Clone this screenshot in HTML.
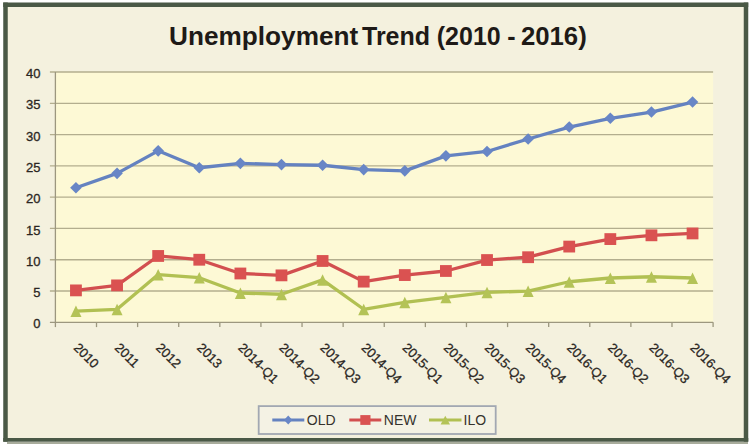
<!DOCTYPE html><html><head><meta charset="utf-8"><style>html,body{margin:0;padding:0;background:#fff;}svg{display:block;font-family:"Liberation Sans",sans-serif;}</style></head><body>
<svg width="752" height="444" viewBox="0 0 752 444">
<rect x="7" y="441.7" width="741" height="2.3" fill="#a8ac9c"/>
<rect x="5" y="5" width="741" height="435" fill="#f4f1de"/>
<rect x="3.25" y="2.5" width="745" height="4.5" fill="#4a5946"/>
<rect x="3.25" y="2.5" width="4.5" height="439.2" fill="#4a5946"/>
<rect x="743.75" y="2.5" width="4.5" height="439.2" fill="#4a5946"/>
<rect x="3.25" y="438" width="745" height="3.7" fill="#4a5946"/>
<rect x="55.4" y="72.00" width="657.70" height="250.30" fill="#fdf9d5"/>
<line x1="49.90" y1="291.01" x2="713.10" y2="291.01" stroke="#b3ae8e" stroke-width="1.3"/>
<line x1="49.90" y1="259.73" x2="713.10" y2="259.73" stroke="#b3ae8e" stroke-width="1.3"/>
<line x1="49.90" y1="228.44" x2="713.10" y2="228.44" stroke="#b3ae8e" stroke-width="1.3"/>
<line x1="49.90" y1="197.15" x2="713.10" y2="197.15" stroke="#b3ae8e" stroke-width="1.3"/>
<line x1="49.90" y1="165.86" x2="713.10" y2="165.86" stroke="#b3ae8e" stroke-width="1.3"/>
<line x1="49.90" y1="134.57" x2="713.10" y2="134.57" stroke="#b3ae8e" stroke-width="1.3"/>
<line x1="49.90" y1="103.29" x2="713.10" y2="103.29" stroke="#b3ae8e" stroke-width="1.3"/>
<line x1="49.90" y1="72.00" x2="713.10" y2="72.00" stroke="#b3ae8e" stroke-width="1.3"/>
<line x1="55.40" y1="72.00" x2="55.40" y2="327.10" stroke="#9c977f" stroke-width="1.3"/>
<line x1="49.90" y1="322.30" x2="713.10" y2="322.30" stroke="#9c977f" stroke-width="1.3"/>
<line x1="96.51" y1="322.30" x2="96.51" y2="327.10" stroke="#9c977f" stroke-width="1.3"/>
<line x1="137.61" y1="322.30" x2="137.61" y2="327.10" stroke="#9c977f" stroke-width="1.3"/>
<line x1="178.72" y1="322.30" x2="178.72" y2="327.10" stroke="#9c977f" stroke-width="1.3"/>
<line x1="219.83" y1="322.30" x2="219.83" y2="327.10" stroke="#9c977f" stroke-width="1.3"/>
<line x1="260.93" y1="322.30" x2="260.93" y2="327.10" stroke="#9c977f" stroke-width="1.3"/>
<line x1="302.04" y1="322.30" x2="302.04" y2="327.10" stroke="#9c977f" stroke-width="1.3"/>
<line x1="343.14" y1="322.30" x2="343.14" y2="327.10" stroke="#9c977f" stroke-width="1.3"/>
<line x1="384.25" y1="322.30" x2="384.25" y2="327.10" stroke="#9c977f" stroke-width="1.3"/>
<line x1="425.36" y1="322.30" x2="425.36" y2="327.10" stroke="#9c977f" stroke-width="1.3"/>
<line x1="466.46" y1="322.30" x2="466.46" y2="327.10" stroke="#9c977f" stroke-width="1.3"/>
<line x1="507.57" y1="322.30" x2="507.57" y2="327.10" stroke="#9c977f" stroke-width="1.3"/>
<line x1="548.68" y1="322.30" x2="548.68" y2="327.10" stroke="#9c977f" stroke-width="1.3"/>
<line x1="589.78" y1="322.30" x2="589.78" y2="327.10" stroke="#9c977f" stroke-width="1.3"/>
<line x1="630.89" y1="322.30" x2="630.89" y2="327.10" stroke="#9c977f" stroke-width="1.3"/>
<line x1="671.99" y1="322.30" x2="671.99" y2="327.10" stroke="#9c977f" stroke-width="1.3"/>
<line x1="713.10" y1="322.30" x2="713.10" y2="327.10" stroke="#9c977f" stroke-width="1.3"/>
<text x="40.5" y="328.40" text-anchor="end" font-size="13" fill="#2a2622" stroke="#2a2622" stroke-width="0.3">0</text>
<text x="40.5" y="297.11" text-anchor="end" font-size="13" fill="#2a2622" stroke="#2a2622" stroke-width="0.3">5</text>
<text x="40.5" y="265.83" text-anchor="end" font-size="13" fill="#2a2622" stroke="#2a2622" stroke-width="0.3">10</text>
<text x="40.5" y="234.54" text-anchor="end" font-size="13" fill="#2a2622" stroke="#2a2622" stroke-width="0.3">15</text>
<text x="40.5" y="203.25" text-anchor="end" font-size="13" fill="#2a2622" stroke="#2a2622" stroke-width="0.3">20</text>
<text x="40.5" y="171.96" text-anchor="end" font-size="13" fill="#2a2622" stroke="#2a2622" stroke-width="0.3">25</text>
<text x="40.5" y="140.67" text-anchor="end" font-size="13" fill="#2a2622" stroke="#2a2622" stroke-width="0.3">30</text>
<text x="40.5" y="109.39" text-anchor="end" font-size="13" fill="#2a2622" stroke="#2a2622" stroke-width="0.3">35</text>
<text x="40.5" y="78.10" text-anchor="end" font-size="13" fill="#2a2622" stroke="#2a2622" stroke-width="0.3">40</text>
<text transform="translate(72.95,348.5) rotate(45)" font-size="13" fill="#2a2622" stroke="#2a2622" stroke-width="0.3">2010</text>
<text transform="translate(114.06,348.5) rotate(45)" font-size="13" fill="#2a2622" stroke="#2a2622" stroke-width="0.3">2011</text>
<text transform="translate(155.17,348.5) rotate(45)" font-size="13" fill="#2a2622" stroke="#2a2622" stroke-width="0.3">2012</text>
<text transform="translate(196.27,348.5) rotate(45)" font-size="13" fill="#2a2622" stroke="#2a2622" stroke-width="0.3">2013</text>
<text transform="translate(237.38,348.5) rotate(45)" font-size="13" fill="#2a2622" stroke="#2a2622" stroke-width="0.3">2014-Q1</text>
<text transform="translate(278.48,348.5) rotate(45)" font-size="13" fill="#2a2622" stroke="#2a2622" stroke-width="0.3">2014-Q2</text>
<text transform="translate(319.59,348.5) rotate(45)" font-size="13" fill="#2a2622" stroke="#2a2622" stroke-width="0.3">2014-Q3</text>
<text transform="translate(360.70,348.5) rotate(45)" font-size="13" fill="#2a2622" stroke="#2a2622" stroke-width="0.3">2014-Q4</text>
<text transform="translate(401.80,348.5) rotate(45)" font-size="13" fill="#2a2622" stroke="#2a2622" stroke-width="0.3">2015-Q1</text>
<text transform="translate(442.91,348.5) rotate(45)" font-size="13" fill="#2a2622" stroke="#2a2622" stroke-width="0.3">2015-Q2</text>
<text transform="translate(484.02,348.5) rotate(45)" font-size="13" fill="#2a2622" stroke="#2a2622" stroke-width="0.3">2015-Q3</text>
<text transform="translate(525.12,348.5) rotate(45)" font-size="13" fill="#2a2622" stroke="#2a2622" stroke-width="0.3">2015-Q4</text>
<text transform="translate(566.23,348.5) rotate(45)" font-size="13" fill="#2a2622" stroke="#2a2622" stroke-width="0.3">2016-Q1</text>
<text transform="translate(607.33,348.5) rotate(45)" font-size="13" fill="#2a2622" stroke="#2a2622" stroke-width="0.3">2016-Q2</text>
<text transform="translate(648.44,348.5) rotate(45)" font-size="13" fill="#2a2622" stroke="#2a2622" stroke-width="0.3">2016-Q3</text>
<text transform="translate(689.55,348.5) rotate(45)" font-size="13" fill="#2a2622" stroke="#2a2622" stroke-width="0.3">2016-Q4</text>
<polyline points="75.95,187.76 117.06,173.37 158.17,150.84 199.27,167.74 240.38,163.36 281.48,164.61 322.59,165.24 363.70,169.62 404.80,170.87 445.91,155.85 487.02,151.47 528.12,138.96 569.23,127.07 610.33,118.31 651.44,112.05 692.55,102.04" fill="none" stroke="#6482c0" stroke-width="3.3" stroke-linejoin="round"/>
<polyline points="75.95,290.39 117.06,285.38 158.17,255.97 199.27,259.73 240.38,273.49 281.48,275.37 322.59,260.98 363.70,281.63 404.80,275.06 445.91,270.99 487.02,260.04 528.12,257.22 569.23,246.58 610.33,239.08 651.44,235.32 692.55,233.44" fill="none" stroke="#d24f4f" stroke-width="3.3" stroke-linejoin="round"/>
<polyline points="75.95,311.16 117.06,309.28 158.17,274.56 199.27,277.68 240.38,293.01 281.48,294.27 322.59,279.87 363.70,309.28 404.80,302.40 445.91,297.40 487.02,292.39 528.12,291.14 569.23,281.75 610.33,278.00 651.44,276.75 692.55,278.00" fill="none" stroke="#b1c052" stroke-width="3.3" stroke-linejoin="round"/>
<path d="M75.95 181.96L81.75 187.76L75.95 193.56L70.15 187.76Z" fill="#6886c6"/>
<path d="M117.06 167.57L122.86 173.37L117.06 179.17L111.26 173.37Z" fill="#6886c6"/>
<path d="M158.17 145.04L163.97 150.84L158.17 156.64L152.37 150.84Z" fill="#6886c6"/>
<path d="M199.27 161.94L205.07 167.74L199.27 173.54L193.47 167.74Z" fill="#6886c6"/>
<path d="M240.38 157.56L246.18 163.36L240.38 169.16L234.58 163.36Z" fill="#6886c6"/>
<path d="M281.48 158.81L287.28 164.61L281.48 170.41L275.68 164.61Z" fill="#6886c6"/>
<path d="M322.59 159.44L328.39 165.24L322.59 171.04L316.79 165.24Z" fill="#6886c6"/>
<path d="M363.70 163.82L369.50 169.62L363.70 175.42L357.90 169.62Z" fill="#6886c6"/>
<path d="M404.80 165.07L410.60 170.87L404.80 176.67L399.00 170.87Z" fill="#6886c6"/>
<path d="M445.91 150.05L451.71 155.85L445.91 161.65L440.11 155.85Z" fill="#6886c6"/>
<path d="M487.02 145.67L492.82 151.47L487.02 157.27L481.22 151.47Z" fill="#6886c6"/>
<path d="M528.12 133.16L533.92 138.96L528.12 144.76L522.32 138.96Z" fill="#6886c6"/>
<path d="M569.23 121.27L575.03 127.07L569.23 132.87L563.43 127.07Z" fill="#6886c6"/>
<path d="M610.33 112.51L616.13 118.31L610.33 124.11L604.53 118.31Z" fill="#6886c6"/>
<path d="M651.44 106.25L657.24 112.05L651.44 117.85L645.64 112.05Z" fill="#6886c6"/>
<path d="M692.55 96.24L698.35 102.04L692.55 107.84L686.75 102.04Z" fill="#6886c6"/>
<rect x="70.05" y="284.49" width="11.8" height="11.8" fill="#da5251"/>
<rect x="111.16" y="279.48" width="11.8" height="11.8" fill="#da5251"/>
<rect x="152.27" y="250.07" width="11.8" height="11.8" fill="#da5251"/>
<rect x="193.37" y="253.83" width="11.8" height="11.8" fill="#da5251"/>
<rect x="234.48" y="267.59" width="11.8" height="11.8" fill="#da5251"/>
<rect x="275.58" y="269.47" width="11.8" height="11.8" fill="#da5251"/>
<rect x="316.69" y="255.08" width="11.8" height="11.8" fill="#da5251"/>
<rect x="357.80" y="275.73" width="11.8" height="11.8" fill="#da5251"/>
<rect x="398.90" y="269.16" width="11.8" height="11.8" fill="#da5251"/>
<rect x="440.01" y="265.09" width="11.8" height="11.8" fill="#da5251"/>
<rect x="481.12" y="254.14" width="11.8" height="11.8" fill="#da5251"/>
<rect x="522.22" y="251.32" width="11.8" height="11.8" fill="#da5251"/>
<rect x="563.33" y="240.68" width="11.8" height="11.8" fill="#da5251"/>
<rect x="604.43" y="233.18" width="11.8" height="11.8" fill="#da5251"/>
<rect x="645.54" y="229.42" width="11.8" height="11.8" fill="#da5251"/>
<rect x="686.65" y="227.54" width="11.8" height="11.8" fill="#da5251"/>
<path d="M75.95 305.56L81.45 317.06L70.45 317.06Z" fill="#b4c357"/>
<path d="M117.06 303.68L122.56 315.18L111.56 315.18Z" fill="#b4c357"/>
<path d="M158.17 268.96L163.67 280.46L152.67 280.46Z" fill="#b4c357"/>
<path d="M199.27 272.08L204.77 283.58L193.77 283.58Z" fill="#b4c357"/>
<path d="M240.38 287.41L245.88 298.91L234.88 298.91Z" fill="#b4c357"/>
<path d="M281.48 288.67L286.98 300.17L275.98 300.17Z" fill="#b4c357"/>
<path d="M322.59 274.27L328.09 285.77L317.09 285.77Z" fill="#b4c357"/>
<path d="M363.70 303.68L369.20 315.18L358.20 315.18Z" fill="#b4c357"/>
<path d="M404.80 296.80L410.30 308.30L399.30 308.30Z" fill="#b4c357"/>
<path d="M445.91 291.80L451.41 303.30L440.41 303.30Z" fill="#b4c357"/>
<path d="M487.02 286.79L492.52 298.29L481.52 298.29Z" fill="#b4c357"/>
<path d="M528.12 285.54L533.62 297.04L522.62 297.04Z" fill="#b4c357"/>
<path d="M569.23 276.15L574.73 287.65L563.73 287.65Z" fill="#b4c357"/>
<path d="M610.33 272.40L615.83 283.90L604.83 283.90Z" fill="#b4c357"/>
<path d="M651.44 271.15L656.94 282.65L645.94 282.65Z" fill="#b4c357"/>
<path d="M692.55 272.40L698.05 283.90L687.05 283.90Z" fill="#b4c357"/>
<g font-size="25" font-weight="bold" fill="#1e1a17">
<text x="169" y="45" textLength="189.3" lengthAdjust="spacingAndGlyphs">Unemployment</text>
<text x="362" y="45">Trend</text>
<text x="436.8" y="45">(2010</text>
<text x="507.3" y="45">-</text>
<text x="520.9" y="45" textLength="65.9" lengthAdjust="spacingAndGlyphs">2016)</text>
</g>
<rect x="258.7" y="406.1" width="237" height="27.9" fill="#f4f2e4" stroke="#a2a8b2" stroke-width="1.8"/>
<line x1="272.3" y1="420.0" x2="304.3" y2="420.0" stroke="#6482c0" stroke-width="3.2"/>
<path d="M288.2 415.6L292.4 420.0L288.2 424.4L284 420.0Z" fill="#6886c6"/>
<text x="306.8" y="424.9" font-size="14" fill="#35322c">OLD</text>
<line x1="349.3" y1="420.0" x2="381.3" y2="420.0" stroke="#d24f4f" stroke-width="3.2"/>
<rect x="360.29999999999995" y="415.1" width="10.2" height="9.8" fill="#da5251"/>
<text x="383.8" y="424.9" font-size="14" fill="#35322c">NEW</text>
<line x1="429" y1="420.0" x2="461.5" y2="420.0" stroke="#b1c052" stroke-width="3.2"/>
<path d="M445.3 415.8L450 424.6L440.6 424.6Z" fill="#b4c357"/>
<text x="463.6" y="424.9" font-size="14" fill="#35322c">ILO</text>
</svg></body></html>
